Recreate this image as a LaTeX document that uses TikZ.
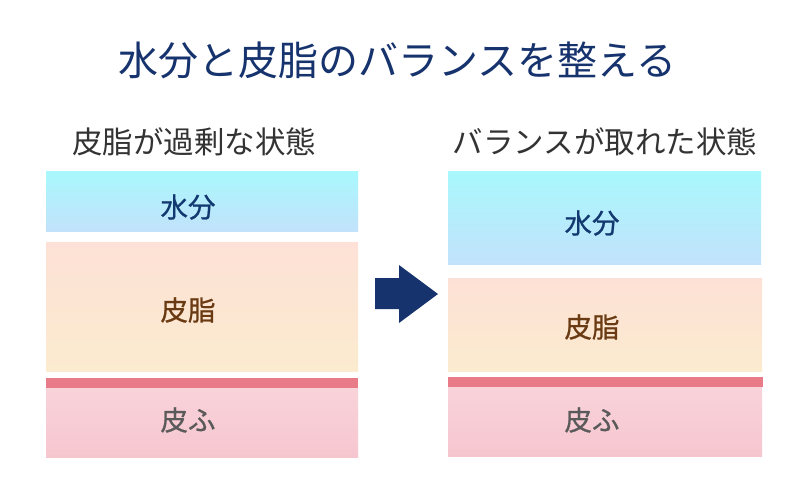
\documentclass[tikz,border=0pt]{standalone}
\usepackage{fontspec}
\setmainfont{Noto Sans CJK JP}
\newfontfamily\lblfont[FakeBold=0.8]{Noto Sans CJK JP}
\definecolor{navy}{HTML}{16336E}
\definecolor{subgray}{HTML}{333333}
\definecolor{waterTop}{HTML}{A8F8FD}
\definecolor{waterBot}{HTML}{C2E2FB}
\definecolor{sebTop}{HTML}{FDE1D6}
\definecolor{sebBot}{HTML}{FBEBCF}
\definecolor{skinLine}{HTML}{E97B89}
\definecolor{skinTop}{HTML}{F9D3DA}
\definecolor{skinBot}{HTML}{F6C6CF}
\definecolor{waterTxt}{HTML}{133A70}
\definecolor{sebTxt}{HTML}{6A3A12}
\definecolor{skinTxt}{HTML}{5A5A5A}
\begin{document}
\begin{tikzpicture}[x=1pt,y=-1pt,
  water/.style={top color=waterTop,bottom color=waterBot,draw=none},
  sebum/.style={top color=sebTop,bottom color=sebBot,draw=none},
  skin/.style={top color=skinTop,bottom color=skinBot,draw=none},
  skinline/.style={fill=skinLine,draw=none},
  lbl/.style={font=\lblfont\fontsize{27.5}{32}\selectfont,inner sep=0pt},
  sub/.style={font=\fontsize{30.5}{35}\selectfont,text=subgray,inner sep=0pt},
]
\useasboundingbox[fill=white] (0,0) rectangle (800,480);
\node[font=\fontsize{40}{46}\selectfont,text=navy,inner sep=0pt] (title) at (397,60) {水分と皮脂のバランスを整える};
\node[sub] (subL) at (194,142) {皮脂が過剰な状態};
\node[sub] (subR) at (605,142) {バランスが取れた状態};
% left column
\path[water] (46,171) rectangle (358,231);
\path[sebum] (46,242) rectangle (358,371);
\path[skinline] (46,378) rectangle (358,388);
\path[skin] (46,388) rectangle (358,457);
\node[lbl,text=waterTxt] (wL) at (188,207) {水分};
\node[lbl,text=sebTxt] (sL) at (188,310) {皮脂};
\node[lbl,text=skinTxt] (kL) at (188,420) {皮ふ};
% right column
\path[water] (448,171) rectangle (761,264);
\path[sebum] (448,278) rectangle (762,371);
\path[skinline] (448,377) rectangle (763,387);
\path[skin] (448,387) rectangle (762,456);
\node[lbl,text=waterTxt] (wR) at (592,223) {水分};
\node[lbl,text=sebTxt] (sR) at (592,327) {皮脂};
\node[lbl,text=skinTxt] (kR) at (592,420) {皮ふ};
% arrow
\fill[navy] (375,278) -- (399,278) -- (399,265) -- (438,294) -- (399,323) -- (399,309) -- (375,309) -- cycle;
\end{tikzpicture}
\end{document}
